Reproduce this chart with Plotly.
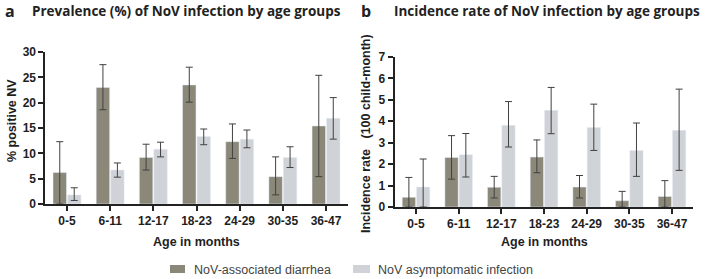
import plotly.graph_objects as go

ages = ["0-5", "6-11", "12-17", "18-23", "24-29", "30-35", "36-47"]

# Panel a: prevalence (%)
prev_diar = [6.2, 23.0, 9.2, 23.5, 12.3, 5.4, 15.4]
prev_diar_hi = [12.3, 27.5, 11.8, 27.0, 15.8, 9.3, 25.4]
prev_diar_lo = [0.0, 18.6, 6.7, 20.1, 9.0, 1.8, 5.4]
prev_asym = [1.8, 6.7, 10.8, 13.3, 12.8, 9.2, 16.9]
prev_asym_hi = [3.2, 8.1, 12.2, 14.8, 14.6, 11.3, 21.0]
prev_asym_lo = [0.7, 5.3, 9.3, 11.7, 11.1, 7.2, 12.8]

# Panel b: incidence rate (per 100 child-month)
inc_diar = [0.45, 2.31, 0.92, 2.33, 0.93, 0.29, 0.49]
inc_diar_hi = [1.38, 3.33, 1.43, 3.13, 1.47, 0.73, 1.23]
inc_diar_lo = [0.0, 1.30, 0.42, 1.60, 0.42, 0.0, 0.0]
inc_asym = [0.93, 2.44, 3.81, 4.51, 3.71, 2.64, 3.58]
inc_asym_hi = [2.24, 3.43, 4.92, 5.58, 4.80, 3.92, 5.50]
inc_asym_lo = [0.0, 1.40, 2.80, 3.42, 2.64, 1.43, 1.71]

series_names = ["NoV-associated diarrhea", "NoV asymptomatic infection"]
C_DIAR = "#8b887a"
C_ASYM = "#cfd2d6"
ERR = "#404040"

W, H = 708, 279

def ebar(vals, hi, lo):
    return dict(type="data", symmetric=False,
                array=[h - v for h, v in zip(hi, vals)],
                arrayminus=[v - l for v, l in zip(vals, lo)],
                color=ERR, thickness=1, width=3.5)

fig = go.Figure()
fig.add_trace(go.Bar(x=ages, y=prev_diar, name=series_names[0], marker_color=C_DIAR,
                     error_y=ebar(prev_diar, prev_diar_hi, prev_diar_lo),
                     xaxis="x", yaxis="y", showlegend=False))
fig.add_trace(go.Bar(x=ages, y=prev_asym, name=series_names[1], marker_color=C_ASYM,
                     error_y=ebar(prev_asym, prev_asym_hi, prev_asym_lo),
                     xaxis="x", yaxis="y", showlegend=False))
fig.add_trace(go.Bar(x=ages, y=inc_diar, name=series_names[0], marker_color=C_DIAR,
                     error_y=ebar(inc_diar, inc_diar_hi, inc_diar_lo),
                     xaxis="x2", yaxis="y2", showlegend=False))
fig.add_trace(go.Bar(x=ages, y=inc_asym, name=series_names[1], marker_color=C_ASYM,
                     error_y=ebar(inc_asym, inc_asym_hi, inc_asym_lo),
                     xaxis="x2", yaxis="y2", showlegend=False))

def fx(p):
    return p / W

def fy(p):
    return (H - p) / H

tickfont = dict(family="Arial", size=12, color="#1e1e1e", weight="bold")
axis_common = dict(showline=True, linecolor="#222", linewidth=2, ticks="outside",
                   tickcolor="#222", tickwidth=2, ticklen=5, showgrid=False,
                   zeroline=False, tickfont=tickfont, automargin=False, fixedrange=True)

fig.update_layout(
    width=W, height=H,
    margin=dict(l=0, r=0, t=0, b=0, autoexpand=False),
    paper_bgcolor="white", plot_bgcolor="white",
    barmode="group", bargap=0.33, bargroupgap=0.07,
    font=dict(family="Arial", color="#222"),
    showlegend=False,
    xaxis=dict(domain=[fx(45.4), fx(347.6)], anchor="y", range=[-0.5, 6.5], **axis_common),
    yaxis=dict(domain=[fy(204), fy(52)], anchor="x", range=[0, 30],
               tickvals=[0, 5, 10, 15, 20, 25, 30], **axis_common),
    xaxis2=dict(domain=[fx(394.7), fx(693.3)], anchor="y2", range=[-0.5, 6.5], **axis_common),
    yaxis2=dict(domain=[fy(207), fy(57)], anchor="x2", range=[0, 7],
                tickvals=list(range(8)), **axis_common),
)

lab_font = dict(family="Arial", size=12.5, color="#1e1e1e", weight="bold")
def ann(x, y, text, font, xanchor="center", angle=0):
    fig.add_annotation(x=fx(x), y=fy(y), xref="paper", yref="paper", xanchor=xanchor,
                       yanchor="middle", text=text, showarrow=False, font=font,
                       textangle=angle, borderpad=0)

# axis titles
ann(196, 242, "Age in months", lab_font)
ann(544, 242, "Age in months", lab_font)
ann(12, 121, "% positive NV", lab_font, angle=-90)
ann(366, 133, "Incidence rate   (100 child-month)", lab_font, angle=-90)

# panel titles
title_font = dict(family="Open Sans", size=13.5, color="#222", weight="bold")
big_font = dict(family="Open Sans", size=16, color="#222", weight="bold")
ann(4, 11, "a", big_font, xanchor="left")
ann(31, 11, "Prevalence (%) of NoV infection by age groups", title_font, xanchor="left")
ann(360, 11, "b", big_font, xanchor="left")
ann(393, 11, "Incidence rate of NoV infection by age groups", title_font, xanchor="left")

# legend (manual key)
leg_font = dict(family="Arial", size=12.5, color="#444")
for (x0, x1, col, tx, name) in [(170, 185, C_DIAR, 193, series_names[0]),
                                (353, 370, C_ASYM, 377, series_names[1])]:
    fig.add_shape(type="rect", xref="paper", yref="paper", x0=fx(x0), x1=fx(x1),
                  y0=fy(273), y1=fy(265), fillcolor=col, line=dict(width=0))
    ann(tx, 269.5, name, leg_font, xanchor="left")

fig.write_html("out.html", config={"displayModeBar": False, "staticPlot": True},
               post_script="document.body.style.margin='0px';document.body.style.overflow='hidden';")
